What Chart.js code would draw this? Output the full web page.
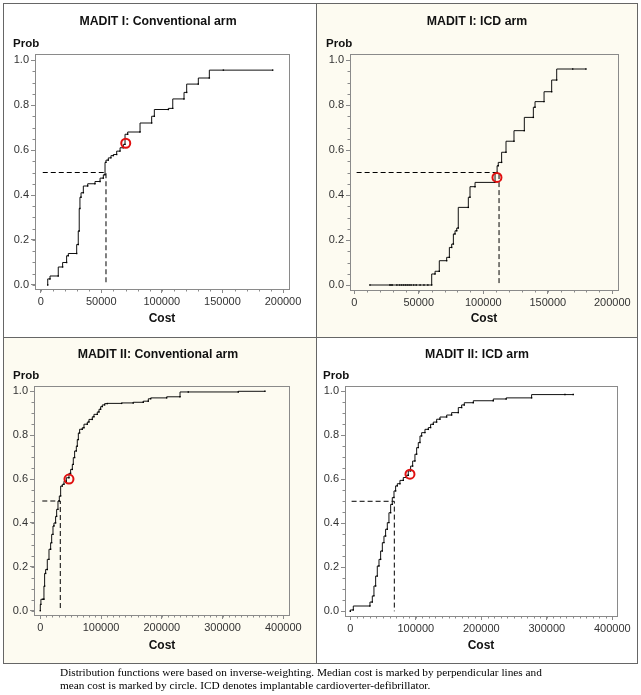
<!DOCTYPE html>
<html>
<head>
<meta charset="utf-8">
<title>MADIT cost distribution functions</title>
<script src="https://cdn.jsdelivr.net/npm/chart.js@4.4.1/dist/chart.umd.min.js"></script>
<style>
  html, body { margin: 0; padding: 0; background: #fff; }
  #page { position: relative; width: 641px; height: 695px; overflow: hidden; font-family: "Liberation Sans", Arial, sans-serif; }
  .cell { position: absolute; }
  .cream { background: #fdfbf1; }
  .frame { position: absolute; left: 3px; top: 3px; width: 633px; height: 659px; border: 1px solid #666; }
  .vline { position: absolute; left: 316px; top: 3px; width: 1px; height: 660px; background: #666; }
  .hline { position: absolute; left: 3px; top: 337px; width: 634px; height: 1px; background: #666; }
  canvas { position: absolute; left: 0; top: 0; }
  .lbl { position: absolute; transform: translate(-50%, -50%); white-space: nowrap; color: #111; font-weight: bold; }
  .title { font-size: 12.3px; }
  .prob { font-size: 11.5px; transform: translate(0, -50%); }
  .cost { font-size: 12px; }
  .caption { position: absolute; left: 60px; top: 666px; font-family: "Liberation Serif", "Times New Roman", serif; font-size: 11.3px; line-height: 13px; color: #000; white-space: nowrap; }
</style>
</head>
<body>
<div id="page">
  <div class="cell" style="left:4px;top:4px;width:312px;height:333px;"></div>
  <div class="cell cream" style="left:317px;top:4px;width:320px;height:333px;"></div>
  <div class="cell cream" style="left:4px;top:338px;width:312px;height:325px;"></div>
  <div class="cell" style="left:317px;top:338px;width:320px;height:325px;"></div>
  <div class="frame"></div>
  <div class="vline"></div>
  <div class="hline"></div>

  <canvas id="c1" width="641" height="695"></canvas>
  <canvas id="c2" width="641" height="695"></canvas>
  <canvas id="c3" width="641" height="695"></canvas>
  <canvas id="c4" width="641" height="695"></canvas>

  <div class="lbl title" style="left:158px;top:21px;">MADIT I: Conventional arm</div>
  <div class="lbl title" style="left:477px;top:21px;">MADIT I: ICD arm</div>
  <div class="lbl title" style="left:158px;top:354px;">MADIT II: Conventional arm</div>
  <div class="lbl title" style="left:477px;top:354px;">MADIT II: ICD arm</div>

  <div class="lbl prob" style="left:13px;top:43px;">Prob</div>
  <div class="lbl prob" style="left:326px;top:43px;">Prob</div>
  <div class="lbl prob" style="left:13px;top:375px;">Prob</div>
  <div class="lbl prob" style="left:323px;top:375px;">Prob</div>

  <div class="lbl cost" style="left:162px;top:318px;">Cost</div>
  <div class="lbl cost" style="left:484px;top:318px;">Cost</div>
  <div class="lbl cost" style="left:162px;top:645px;">Cost</div>
  <div class="lbl cost" style="left:481px;top:645px;">Cost</div>

  <div class="caption">Distribution functions were based on inverse-weighting. Median cost is marked by perpendicular lines and<br>mean cost is marked by circle. ICD denotes implantable cardioverter-defibrillator.</div>
</div>

<script>
// tick labels
const probTicks = [0, 0.2, 0.4, 0.6, 0.8, 1.0];
const costTicksI = [0, 50000, 100000, 150000, 200000];
const costTicksII = [0, 100000, 200000, 300000, 400000];

// MADIT I: Conventional arm
const m1ConvCost = [5800, 7700, 14500, 18100, 21400, 22800, 29700, 31000, 31800, 32400, 33300, 35200, 38800, 44800, 49000, 51700, 53100, 53900, 55800, 58000, 60000, 62700, 65500, 68200, 69600, 71800, 82000, 91600, 93800, 105400, 109000, 118300, 120500, 130100, 139200, 150800, 191500];
const m1ConvProb = [0, 0.027, 0.04, 0.08, 0.10, 0.13, 0.14, 0.18, 0.24, 0.34, 0.39, 0.41, 0.44, 0.45, 0.46, 0.475, 0.49, 0.545, 0.555, 0.565, 0.575, 0.58, 0.595, 0.61, 0.625, 0.67, 0.68, 0.72, 0.75, 0.78, 0.785, 0.827, 0.856, 0.893, 0.92, 0.955, 0.955];
const m1ConvMedian = 53900;
const m1ConvMean = 70200;
const m1ConvMeanProb = 0.63;

// MADIT I: ICD arm
const m1IcdCost = [12100, 27500, 28500, 29500, 33000, 35000, 36500, 38000, 39500, 41000, 42500, 44000, 46000, 48000, 51000, 54000, 57000, 60000, 62600, 65900, 71600, 73700, 75500, 76800, 78100, 79400, 80600, 88400, 89700, 93600, 109100, 110700, 111600, 114200, 117600, 123800, 131800, 138800, 140100, 147100, 153000, 156900, 169300, 179600];
const m1IcdProb = [0, 0, 0, 0, 0, 0, 0, 0, 0, 0, 0, 0, 0, 0, 0, 0, 0, 0, 0.049, 0.061, 0.108, 0.123, 0.167, 0.182, 0.227, 0.241, 0.253, 0.345, 0.39, 0.437, 0.456, 0.50, 0.53, 0.545, 0.59, 0.639, 0.686, 0.745, 0.79, 0.815, 0.859, 0.911, 0.96, 0.96];
const m1IcdMedian = 112200;
const m1IcdMean = 110600;
const m1IcdMeanProb = 0.478;

// MADIT II: Conventional arm
const m2ConvCost = [0, 1000, 4400, 6000, 7100, 8800, 11500, 14300, 17000, 18700, 20900, 22500, 25200, 26900, 29100, 31300, 33500, 36200, 39000, 42800, 47200, 49900, 52700, 54300, 56500, 59300, 60900, 62600, 64700, 69100, 71900, 77400, 80100, 85600, 88300, 93800, 96600, 99300, 102000, 105900, 110300, 133900, 153000, 169500, 177800, 181700, 208000, 230000, 243600, 325900, 369800];
const m2ConvProb = [0, 0.029, 0.052, 0.052, 0.112, 0.17, 0.188, 0.234, 0.28, 0.31, 0.348, 0.386, 0.40, 0.43, 0.462, 0.50, 0.523, 0.568, 0.576, 0.59, 0.606, 0.626, 0.644, 0.667, 0.698, 0.728, 0.75, 0.78, 0.81, 0.827, 0.834, 0.85, 0.86, 0.872, 0.884, 0.895, 0.906, 0.918, 0.93, 0.938, 0.944, 0.945, 0.947, 0.95, 0.955, 0.966, 0.97, 0.975, 0.997, 0.997, 1.0];
const m2ConvMedian = 32900;
const m2ConvMean = 47200;
const m2ConvMeanProb = 0.60;

// MADIT II: ICD arm
const m2IcdCost = [0, 4600, 30000, 33600, 36100, 38700, 41200, 43800, 46300, 48900, 51400, 53900, 56500, 59000, 61600, 64100, 66700, 69200, 71800, 75800, 80900, 86000, 88500, 92100, 95200, 98700, 101300, 103800, 106400, 108900, 114000, 119100, 122600, 126700, 131800, 136900, 147100, 154700, 164900, 170000, 174000, 187800, 218300, 238000, 276800, 327700, 340400];
const m2IcdProb = [0, 0.006, 0.024, 0.042, 0.07, 0.115, 0.16, 0.206, 0.236, 0.274, 0.312, 0.342, 0.373, 0.403, 0.448, 0.486, 0.517, 0.547, 0.57, 0.58, 0.595, 0.608, 0.618, 0.638, 0.66, 0.683, 0.714, 0.744, 0.767, 0.797, 0.812, 0.827, 0.835, 0.85, 0.86, 0.873, 0.883, 0.892, 0.903, 0.926, 0.938, 0.948, 0.957, 0.965, 0.97, 0.985, 0.985];
const m2IcdMedian = 67200;
const m2IcdMean = 91100;
const m2IcdMeanProb = 0.623;

const axisGray = "#8a8a8a";
const tickText = "#333";

// frame round the plot and the small minor ticks
const framePlugin = {
  id: "frame",
  afterDraw(chart, args, opts) {
    const { ctx, chartArea: a, scales } = chart;
    ctx.save();
    ctx.strokeStyle = axisGray;
    ctx.lineWidth = 1;
    ctx.strokeRect(Math.round(a.left) + 0.5, Math.round(a.top) + 0.5, Math.round(a.right - a.left), Math.round(a.bottom - a.top));
    ctx.beginPath();
    for (let v = 0; v <= opts.xLast + 1; v += opts.xStep) {
      const px = Math.round(scales.x.getPixelForValue(v)) + 0.5;
      ctx.moveTo(px, a.bottom);
      ctx.lineTo(px, a.bottom + 2.5);
    }
    for (let i = 0; i <= 20; i++) {
      const py = Math.round(scales.y.getPixelForValue(i * 0.05)) + 0.5;
      ctx.moveTo(a.left, py);
      ctx.lineTo(a.left - 2.5, py);
    }
    ctx.stroke();
    ctx.restore();
  },
};

function toPoints(xs, ys) {
  return xs.map((x, i) => ({ x: x, y: ys[i] }));
}

function makePanel(id, box, range, costTicks, costs, probs, median, medianFrom, mean, meanProb) {
  const ctx = document.getElementById(id);
  new Chart(ctx, {
    type: "line",
    data: {
      datasets: [
        {
          data: [{ x: mean, y: meanProb }],
          showLine: false,
          pointRadius: 4.5,
          pointStyle: "circle",
          pointBorderColor: "#e01010",
          pointBorderWidth: 2,
          pointBackgroundColor: "rgba(0,0,0,0)",
          order: 0,
        },
        {
          data: toPoints(costs, probs),
          stepped: "after",
          borderColor: "#111",
          borderWidth: 1,
          pointRadius: 1,
          pointStyle: "rect",
          pointBackgroundColor: "#000",
          pointBorderWidth: 0,
          fill: false,
          order: 1,
        },
        {
          data: [
            { x: medianFrom, y: 0.5 },
            { x: median, y: 0.5 },
            { x: median, y: 0 },
          ],
          borderColor: "#000",
          borderWidth: 1,
          borderDash: [5, 3],
          pointRadius: 0,
          fill: false,
          order: 2,
        },
      ],
    },
    options: {
      responsive: false,
      animation: false,
      devicePixelRatio: 1,
      layout: {
        padding: { left: box.l - 30, top: box.t, right: 641 - box.r, bottom: 695 - box.b - 20 },
      },
      plugins: {
        legend: { display: false },
        tooltip: { enabled: false },
        frame: { xStep: costTicks[1] / (costTicks[1] === 50000 ? 5 : 10), xLast: costTicks[costTicks.length - 1] },
      },
      scales: {
        x: {
          type: "linear",
          min: range.xMin,
          max: range.xMax,
          afterBuildTicks: (s) => { s.ticks = costTicks.map((v) => ({ value: v })); },
          afterFit: (s) => { s.height = 20; },
          border: { display: false },
          grid: { drawOnChartArea: false, drawTicks: true, tickLength: 4, color: axisGray },
          ticks: {
            autoSkip: false,
            maxRotation: 0,
            padding: 2,
            color: tickText,
            font: { family: "Liberation Sans", size: 11 },
            callback: (v) => String(v),
          },
        },
        y: {
          type: "linear",
          min: range.yMin,
          max: range.yMax,
          afterBuildTicks: (s) => { s.ticks = probTicks.map((v) => ({ value: v })); },
          afterFit: (s) => { s.width = 30; },
          border: { display: false },
          grid: { drawOnChartArea: false, drawTicks: true, tickLength: 4, color: axisGray },
          ticks: {
            padding: 2,
            color: tickText,
            font: { family: "Liberation Sans", size: 11 },
            callback: (v) => Number(v).toFixed(1),
          },
        },
      },
    },
    plugins: [framePlugin],
  });
}

makePanel("c1", { l: 35, t: 54, r: 289, b: 289 }, { xMin: -4700, xMax: 204950, yMin: -0.0178, yMax: 1.0267 },
  costTicksI, m1ConvCost, m1ConvProb, m1ConvMedian, 1700, m1ConvMean, m1ConvMeanProb);
makePanel("c2", { l: 350, t: 54, r: 618, b: 290 }, { xMin: -3330, xMax: 204420, yMin: -0.0222, yMax: 1.0267 },
  costTicksI, m1IcdCost, m1IcdProb, m1IcdMedian, 1800, m1IcdMean, m1IcdMeanProb);
makePanel("c3", { l: 34, t: 386, r: 289, b: 615 }, { xMin: -10370, xMax: 409380, yMin: -0.0196, yMax: 1.0242 },
  costTicksII, m2ConvCost, m2ConvProb, m2ConvMedian, 3300, m2ConvMean, m2ConvMeanProb);
makePanel("c4", { l: 345, t: 386, r: 617, b: 616 }, { xMin: -8090, xMax: 407180, yMin: -0.0214, yMax: 1.024 },
  costTicksII, m2IcdCost, m2IcdProb, m2IcdMedian, 2000, m2IcdMean, m2IcdMeanProb);
</script>
</body>
</html>
